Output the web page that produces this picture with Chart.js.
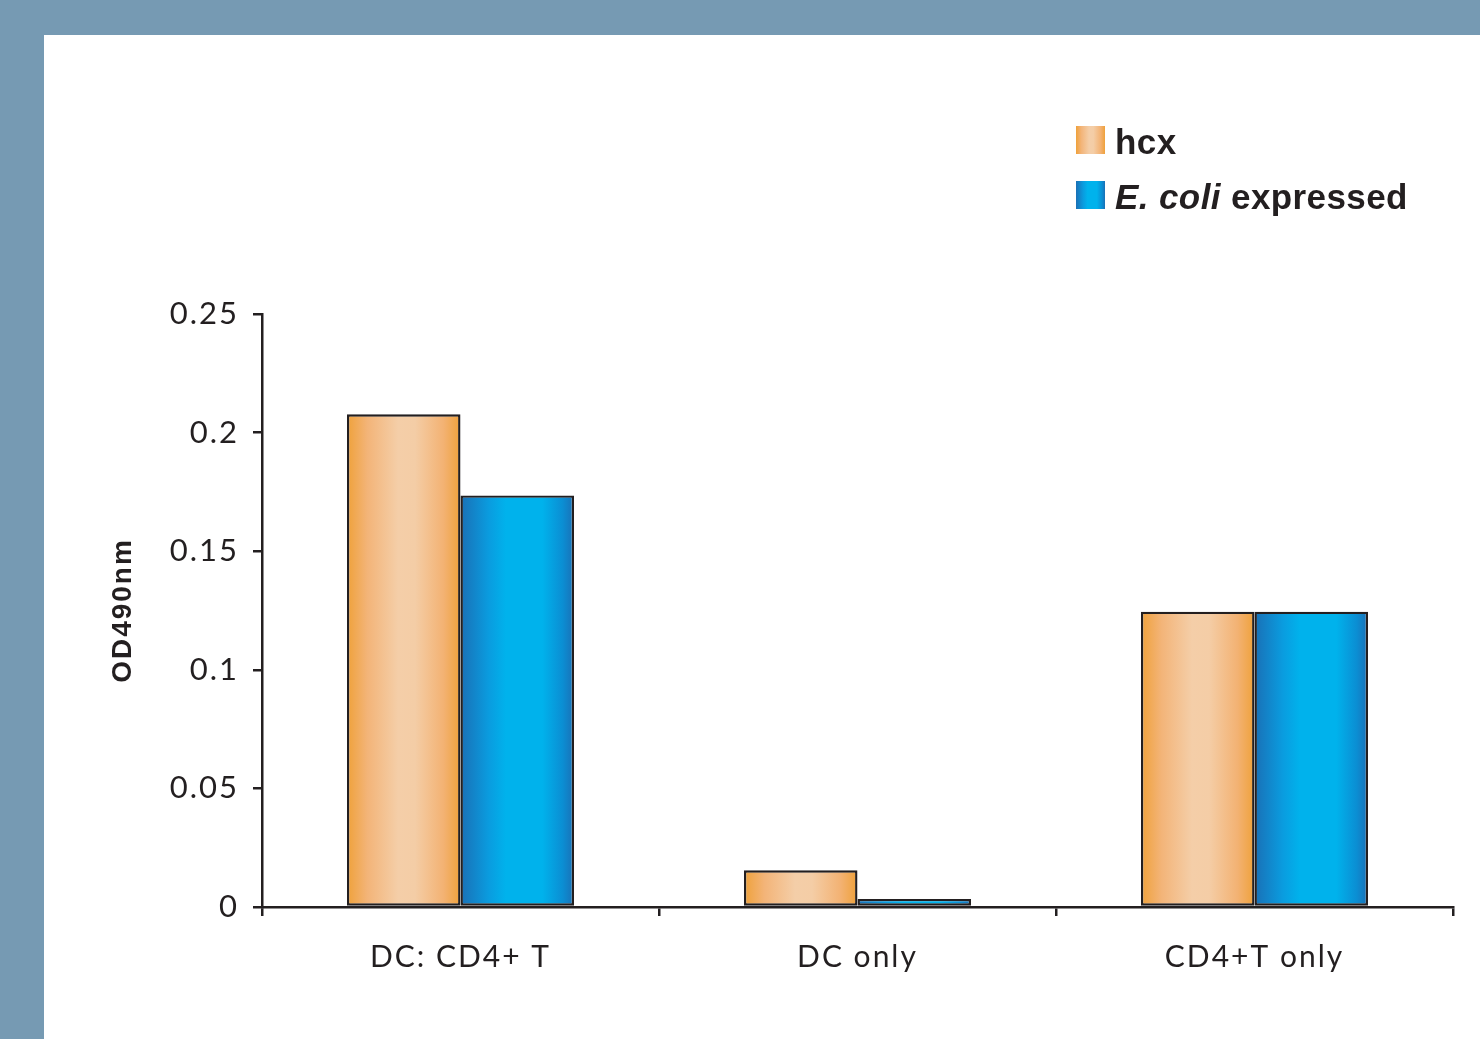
<!DOCTYPE html>
<html>
<head>
<meta charset="utf-8">
<script src="https://cdn.jsdelivr.net/npm/chart.js@4/dist/chart.umd.min.js"></script>
<style>
  html, body { margin: 0; padding: 0; }
  body { width: 1480px; height: 1039px; background: #769AB3; position: relative; overflow: hidden; }
  #panel { position: absolute; left: 44px; top: 35px; right: 0; bottom: 0; background: #ffffff; }
  #wrap { position: absolute; left: 0; top: 0; width: 1480px; height: 1039px; }
  #legend { position: absolute; left: 1076px; top: 120px; font-family: "Liberation Sans", Arial, sans-serif; font-weight: bold; color: #231F20; }
  .item { position: absolute; left: 0; white-space: nowrap; font-size: 35px; line-height: 44px; letter-spacing: 0.4px; }
  .sw { position: absolute; left: 0; width: 29px; height: 28px; }
  .lbl { position: absolute; left: 39px; top: 0; }
</style>
</head>
<body>
<div id="panel"></div>
<div id="wrap"><canvas id="c" width="1480" height="1039"></canvas></div>
<div id="legend"></div>
<script>
const categories = ['DC: CD4+ T', 'DC only', 'CD4+T only'];
const hcxValues = [0.2077, 0.0155, 0.1245];
const ecoliValues = [0.1735, 0.0034, 0.1245];
const seriesLabels = ['hcx', 'E. coli expressed'];
const yTickLabels = ['0', '0.05', '0.1', '0.15', '0.2', '0.25'];
const yTitle = 'OD490nm';

const ink = '#231F20';
const orangeStops = [[0, '#EFA13A'], [0.18, '#F3B478'], [0.45, '#F4CEA8'], [0.6, '#F4CDA6'], [0.85, '#F3B273'], [1, '#EFA13A']];
const blueStops = [[0, '#1A70B6'], [0.25, '#0A9CDF'], [0.4, '#00B2EC'], [0.72, '#00B2EC'], [0.9, '#0B8ED3'], [1, '#1A70B6']];

function cssGrad(stops) {
  return 'linear-gradient(to right,' + stops.map(s => s[1] + ' ' + (s[0] * 100) + '%').join(',') + ')';
}

// HTML legend
(function () {
  const lg = document.getElementById('legend');
  const tops = [0, 55];
  const stopsArr = [orangeStops, blueStops];
  seriesLabels.forEach((lab, i) => {
    const it = document.createElement('div');
    it.className = 'item';
    it.style.top = tops[i] + 'px';
    const sw = document.createElement('div');
    sw.className = 'sw';
    sw.style.top = '6px';
    sw.style.background = cssGrad(stopsArr[i]);
    const tx = document.createElement('div');
    tx.className = 'lbl';
    if (lab.indexOf('E. coli') === 0) {
      const em = document.createElement('i');
      em.textContent = 'E. coli';
      tx.appendChild(em);
      tx.appendChild(document.createTextNode(lab.slice(7)));
    } else {
      tx.textContent = lab;
    }
    it.appendChild(sw);
    it.appendChild(tx);
    lg.appendChild(it);
  });
})();

const gradientPlugin = {
  id: 'barGradients',
  beforeDraw(chart) {
    try { chart.ctx.letterSpacing = '2px'; } catch (e) {}
  },
  beforeDatasetsDraw(chart) {
    const ctx = chart.ctx;
    chart.data.datasets.forEach((ds, di) => {
      const meta = chart.getDatasetMeta(di);
      const stops = di === 0 ? orangeStops : blueStops;
      meta.data.forEach(el => {
        const x0 = el.x - el.width / 2, x1 = el.x + el.width / 2;
        const g = ctx.createLinearGradient(x0, 0, x1, 0);
        stops.forEach(s => g.addColorStop(s[0], s[1]));
        el.options = Object.assign({}, el.options, { backgroundColor: g });
      });
    });
  }
};

new Chart(document.getElementById('c'), {
  type: 'bar',
  data: {
    labels: categories,
    datasets: [
      { label: seriesLabels[0], data: hcxValues, backgroundColor: '#F3C08E' },
      { label: seriesLabels[1], data: ecoliValues, backgroundColor: '#00A8E6' }
    ]
  },
  plugins: [gradientPlugin],
  options: {
    responsive: false,
    animation: false,
    events: [],
    layout: { padding: { left: 106, top: 314, right: 27, bottom: 0 } },
    datasets: {
      bar: {
        categoryPercentage: 0.572,
        barPercentage: 1,
        borderColor: ink,
        borderWidth: 2.4,
        borderSkipped: false
      }
    },
    plugins: { legend: { display: false }, tooltip: { enabled: false } },
    scales: {
      x: {
        offset: true,
        grid: { display: true, offset: true, drawOnChartArea: false, drawTicks: true, tickLength: 9, color: ink, lineWidth: 2.5 },
        border: { display: true, color: ink, width: 2.5 },
        ticks: { color: ink, font: { family: 'Lato', size: 30 }, padding: 23 },
        afterFit(s) { s.height = 132; }
      },
      y: {
        min: 0, max: 0.25,
        grid: { display: true, drawOnChartArea: false, drawTicks: true, tickLength: 9, color: ink, lineWidth: 2.5 },
        border: { display: true, color: ink, width: 2.5 },
        ticks: {
          stepSize: 0.05,
          color: ink,
          font: { family: 'Lato', size: 31 },
          padding: 14,
          callback: (v, i) => yTickLabels[i]
        },
        title: { display: true, text: yTitle, color: ink, font: { family: 'Liberation Sans', weight: 'bold', size: 28 }, padding: 0 },
        afterFit(s) { s.width = 156; }
      }
    }
  }
});
</script>
</body>
</html>
